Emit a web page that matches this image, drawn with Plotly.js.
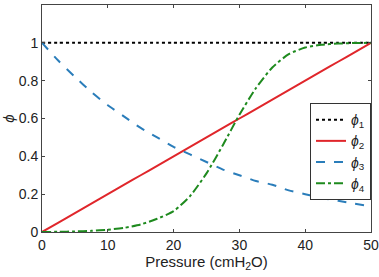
<!DOCTYPE html>
<html>
<head>
<meta charset="utf-8">
<script src="https://cdn.plot.ly/plotly-3.0.1.min.js"></script>
<style>html,body{margin:0;padding:0;background:#fff;}#chart{width:379px;height:277px;}</style>
</head>
<body>
<div id="chart"></div>
<script>
var pressure = [0, 2.5, 5, 7.5, 10, 12.5, 15, 17.5, 20, 22.5, 25, 27.5, 30, 32.5, 35, 37.5, 40, 42.5, 45, 47.5, 50];
var phi1 = [1, 1, 1, 1, 1, 1, 1, 1, 1, 1, 1, 1, 1, 1, 1, 1, 1, 1, 1, 1, 1];
var phi2 = [0, 0.05, 0.1, 0.15, 0.2, 0.25, 0.3, 0.35, 0.4, 0.45, 0.5, 0.55, 0.6, 0.65, 0.7, 0.75, 0.8, 0.85, 0.9, 0.95, 1.0];
var phi3 = [1, 0.905, 0.82, 0.74, 0.67, 0.61, 0.55, 0.50, 0.45, 0.41, 0.37, 0.33, 0.30, 0.27, 0.25, 0.22, 0.20, 0.18, 0.165, 0.15, 0.135];
var phi4 = [0, 0.001, 0.003, 0.006, 0.012, 0.022, 0.04, 0.07, 0.11, 0.19, 0.31, 0.46, 0.62, 0.76, 0.87, 0.94, 0.975, 0.99, 0.996, 0.999, 1.0];
var names = ['<i>ϕ</i><sub>1</sub>', '<i>ϕ</i><sub>2</sub>', '<i>ϕ</i><sub>3</sub>', '<i>ϕ</i><sub>4</sub>'];
var xTicks = [0, 10, 20, 30, 40, 50];
var yTicks = [0, 0.2, 0.4, 0.6, 0.8, 1, 1.2];
var yTickText = ['0', '0.2', '0.4', '0.6', '0.8', '1', '1.2'];

var series = [phi1, phi2, phi3, phi4];
var colors = ['#000000', '#e0262b', '#2a7dba', '#1e8a1e'];
var dashes = ['dot', 'solid', 'dash', 'dashdot'];
var traces = series.map(function (s, i) {
  return {
    x: pressure, y: s, name: names[i], type: 'scatter', mode: 'lines',
    line: {color: colors[i], width: 2, dash: dashes[i], shape: 'spline', smoothing: 0.6}
  };
});

var fam = 'Liberation Sans, Arial, sans-serif';
var tickFont = {family: fam, size: 14, color: '#222'};
var titleFont = {family: fam, size: 15, color: '#222'};
var layout = {
  width: 379, height: 277,
  margin: {l: 42, r: 8, t: 5, b: 45},
  paper_bgcolor: '#fff', plot_bgcolor: '#fff',
  font: tickFont,
  showlegend: true,
  legend: {
    x: 1, xanchor: 'right', y: 0.568, yanchor: 'top',
    bgcolor: '#fff', bordercolor: '#333', borderwidth: 1,
    font: {family: fam, size: 14, color: '#222'},
    tracegroupgap: 0, itemwidth: 30
  },
  xaxis: {
    range: [0, 50], tickvals: xTicks, ticktext: xTicks.map(String),
    ticks: 'inside', ticklen: 3, tickcolor: '#444', mirror: 'ticks',
    tickfont: tickFont,
    showline: true, linecolor: '#444', linewidth: 1, showgrid: false, zeroline: false,
    title: {text: 'Pressure (cmH<sub>2</sub>O)', font: titleFont, standoff: 4}
  },
  yaxis: {
    range: [0, 1.2], tickvals: yTicks, ticktext: yTickText,
    ticks: 'inside', ticklen: 3, tickcolor: '#444', mirror: 'ticks',
    tickfont: tickFont,
    showline: true, linecolor: '#444', linewidth: 1, showgrid: false, zeroline: false,
    title: {text: '<i>ϕ</i>', font: titleFont, standoff: 2}
  }
};
Plotly.newPlot('chart', traces, layout, {displayModeBar: false, staticPlot: true});
</script>
</body>
</html>
